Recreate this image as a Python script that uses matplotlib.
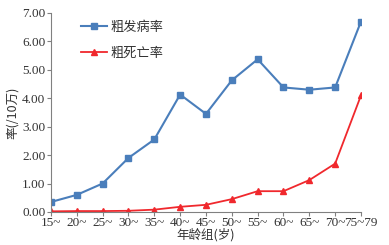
import numpy as np
import matplotlib.pyplot as plt

plt.rcParams['font.family'] = ['Liberation Serif', 'Noto Sans CJK SC']

# ---------------------------------------------------------------------------
# Datos
# ---------------------------------------------------------------------------
grupos = ["15~", "20~", "25~", "30~", "35~", "40~", "45~", "50~", "55~",
          "60~", "65~", "70~", "75~79"]
incidencia = [0.35, 0.60, 1.00, 1.90, 2.55, 4.13, 3.45, 4.63, 5.37,
              4.38, 4.30, 4.38, 6.70]
mortalidad = [0.02, 0.03, 0.03, 0.04, 0.08, 0.18, 0.25, 0.45, 0.73,
              0.73, 1.12, 1.70, 4.10]

# ---------------------------------------------------------------------------
# Gráfico
# ---------------------------------------------------------------------------
fig = plt.figure(figsize=(3.89, 2.45), dpi=100)
ax = fig.add_axes([0.131, 0.135, 0.797, 0.812])

x = np.arange(len(grupos))
ax.plot(x, incidencia, color="#4a7ebb", linewidth=1.5, marker="s",
        markersize=5, label="粗发病率")
ax.plot(x, mortalidad, color="#f0282d", linewidth=1.3, marker="^",
        markersize=5, label="粗死亡率")

ax.set_xlim(0, len(grupos) - 1)
ax.set_ylim(0, 7)
ax.set_yticks(np.arange(0, 7.01, 1))
ax.set_yticklabels([f"{v:.2f}" for v in np.arange(0, 7.01, 1)])
ax.set_xticks(x)
ax.set_xticklabels(grupos)

for s in ["top", "right"]:
    ax.spines[s].set_visible(False)
for s in ["left", "bottom"]:
    ax.spines[s].set_color("#808080")
ax.tick_params(axis="both", colors="#808080", labelcolor="#333333",
               labelsize=9.5, length=3, pad=1)

ax.set_xlabel("年龄组(岁)", fontsize=9, color="#333333", labelpad=-1,
              family=['Noto Sans CJK SC'])
ax.set_ylabel("率(/10万)", fontsize=9, color="#333333", labelpad=2,
              family=['Noto Sans CJK SC', 'Liberation Serif'])

leg = ax.legend(loc="upper left", bbox_to_anchor=(0.06, 1.02), frameon=False,
                handlelength=1.9, handletextpad=0.3, labelspacing=1.0,
                prop={'family': ['Noto Sans CJK SC'], 'size': 9.5})
for t in leg.get_texts():
    t.set_color("#333333")

fig.savefig("out.png", dpi=100)
